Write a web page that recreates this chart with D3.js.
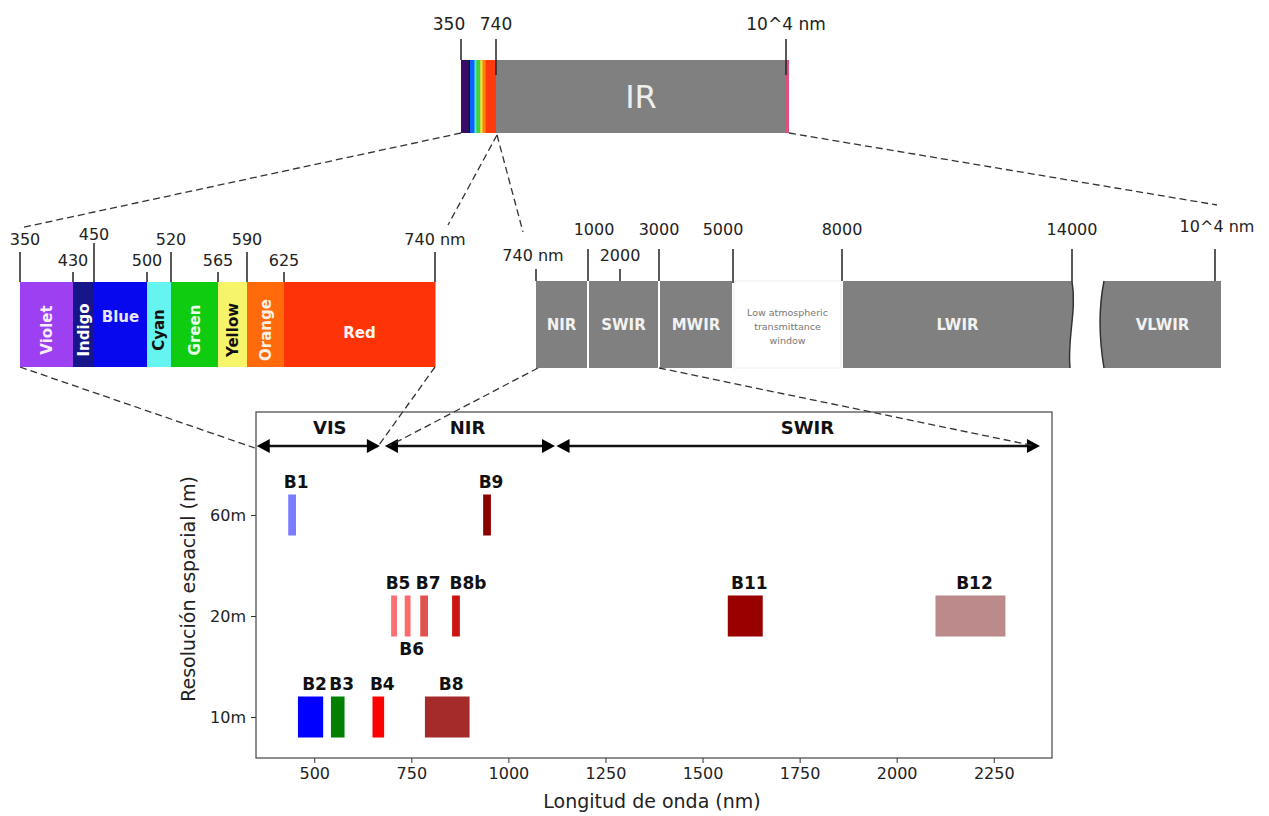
<!DOCTYPE html>
<html>
<head>
<meta charset="utf-8">
<script src="https://cdn.jsdelivr.net/npm/d3@7"></script>
<style>
body { margin: 0; background: #fff; }
text { font-family: "DejaVu Sans", sans-serif; }
</style>
</head>
<body>
<div id="fig"></div>
<script>
// visible spectrum
var visNames = ["Violet", "Indigo", "Blue", "Cyan", "Green", "Yellow", "Orange", "Red"];
var visEdges = [350, 430, 450, 500, 520, 565, 590, 625, 740];
var visTickLabels = ["350", "430", "450", "500", "520", "565", "590", "625", "740 nm"];
var visTickLevel = [1, 2, 0, 2, 1, 2, 1, 2, 1];
var visColors = ["#9d40f2", "#16168a", "#0808ee", "#66f4f0", "#10cc10", "#f6f46a", "#ff6a0a", "#ff3308"];
var visTextColors = ["#f6eefe", "#ffffff", "#e6e6ff", "#111111", "#eaffea", "#111111", "#fff0e4", "#fff6f2"];
var topVisColors = ["#3a0c6a", "#0c0c3c", "#1060ff", "#40e8f0", "#40d040", "#f0e030", "#ff8010", "#ff3a0c"];

// infrared
var irNames = ["NIR", "SWIR", "MWIR", "window", "LWIR"];
var irEdges = [740, 1000, 3000, 5000, 8000, 14000];
var irTicks = [740, 1000, 2000, 3000, 5000, 8000, 14000];
var irTickLabels = ["740 nm", "1000", "2000", "3000", "5000", "8000", "14000"];
var irTickLevel = [2, 1, 2, 1, 1, 1, 1];
var windowText = ["Low atmospheric", "transmittance", "window"];

// Sentinel-2 bands
var bandNames = ["B1", "B2", "B3", "B4", "B5", "B6", "B7", "B8", "B8b", "B9", "B11", "B12"];
var bandStart = [433, 458, 543, 650, 698, 733, 773, 785, 855, 935, 1565, 2100];
var bandEnd   = [453, 523, 578, 680, 713, 748, 793, 900, 875, 955, 1655, 2280];
var bandRes   = ["60m", "10m", "10m", "10m", "20m", "20m", "20m", "10m", "20m", "60m", "20m", "20m"];
var bandColors = ["#7b7bff", "#0000ff", "#007f00", "#ff0000", "#ff7070", "#ff6a6a", "#e05252",
                  "#a52a2a", "#cc1414", "#8b0000", "#990000", "#bc8a8a"];
var resLevels = ["60m", "20m", "10m"];
var xTicks = [500, 750, 1000, 1250, 1500, 1750, 2000, 2250];

var regionNames = ["VIS", "NIR", "SWIR"];
var regionStart = [352, 682, 1124];
var regionEnd   = [669, 1120, 2369];
var regionLabelAt = [540, 895, 1770];

var W = 1269, H = 816;
var svg = d3.select("#fig").append("svg").attr("width", W).attr("height", H);
svg.append("rect").attr("width", W).attr("height", H).attr("fill", "#fff");

var dash = (sel) => sel.attr("stroke", "#333").attr("stroke-width", 1.3)
    .attr("stroke-dasharray", "7,4").attr("fill", "none");
var tickLine = (sel) => sel.attr("stroke", "#222").attr("stroke-width", 1.5);

// ---------- top bar ----------
var topY = 60, topH = 73;
var topScale = d3.scaleLinear().domain([350, 740, 10000]).range([461, 496, 786]);
var topG = svg.append("g");
topG.selectAll("rect.vis")
    .data(visNames)
    .join("rect")
    .attr("x", (d, i) => topScale(visEdges[i]))
    .attr("width", (d, i) => topScale(visEdges[i + 1]) - topScale(visEdges[i]) + 0.5)
    .attr("y", topY).attr("height", topH)
    .attr("fill", (d, i) => topVisColors[i]);
topG.append("rect")
    .attr("x", topScale(740)).attr("width", topScale(10000) - topScale(740))
    .attr("y", topY).attr("height", topH).attr("fill", "#808080");
topG.append("rect")
    .attr("x", topScale(10000)).attr("width", 3)
    .attr("y", topY).attr("height", topH).attr("fill", "#e0507c");
topG.append("text")
    .attr("x", (topScale(740) + topScale(10000)) / 2).attr("y", topY + topH / 2)
    .attr("dy", "0.36em").attr("text-anchor", "middle")
    .attr("font-size", 32).attr("fill", "#eeeeee").text("IR");
var topTicks = [350, 740, 10000];
var topTickLabels = ["350", "740", "10^4 nm"];
topG.selectAll("line.t").data(topTicks).join("line")
    .attr("x1", d => topScale(d)).attr("x2", d => topScale(d))
    .attr("y1", 39).attr("y2", (d, i) => i === 0 ? topY : topY + 15)
    .call(tickLine);
topG.selectAll("text.t").data(topTicks).join("text")
    .attr("x", (d, i) => topScale(d) + (i === 0 ? -12 : 0)).attr("y", 30)
    .attr("text-anchor", "middle").attr("font-size", 17).attr("fill", "#222")
    .text((d, i) => topTickLabels[i]);

// ---------- visible bar ----------
var visY = 282, visH = 85;
var visScale = d3.scaleLinear().domain(visEdges).range([20, 73, 94, 147, 171, 218, 247, 284, 435]);
var vis = svg.append("g");
vis.selectAll("rect").data(visNames).join("rect")
    .attr("x", (d, i) => visScale(visEdges[i]))
    .attr("width", (d, i) => visScale(visEdges[i + 1]) - visScale(visEdges[i]) + 0.5)
    .attr("y", visY).attr("height", visH)
    .attr("fill", (d, i) => visColors[i]);
vis.selectAll("text.name").data(visNames).join("text")
    .attr("class", "name")
    .attr("transform", (d, i) => {
        var cx = (visScale(visEdges[i]) + visScale(visEdges[i + 1])) / 2;
        if (d === "Blue") return `translate(${cx},${visY + 35})`;
        if (d === "Red") return `translate(${cx},${visY + 51})`;
        return `translate(${cx},${visY + 48}) rotate(-90)`;
    })
    .attr("dy", "0.36em").attr("text-anchor", "middle")
    .attr("font-size", 15).attr("font-weight", "bold")
    .attr("fill", (d, i) => visTextColors[i]).text(d => d);
var levelBase = [240, 245, 266], levelTop = [243, 252, 272];
vis.selectAll("line.t").data(visEdges).join("line")
    .attr("x1", d => visScale(d)).attr("x2", d => visScale(d))
    .attr("y1", (d, i) => levelTop[visTickLevel[i]]).attr("y2", visY)
    .call(tickLine);
vis.selectAll("text.t").data(visEdges).join("text")
    .attr("x", (d, i) => visScale(d) + (i === 0 ? 5 : 0))
    .attr("y", (d, i) => levelBase[visTickLevel[i]])
    .attr("text-anchor", "middle").attr("font-size", 16).attr("fill", "#222")
    .text((d, i) => visTickLabels[i]);

// ---------- infrared bar ----------
var irY = 281, irH = 87;
var irScale = d3.scaleLinear().domain(irTicks).range([536, 588, 620, 659, 733, 842, 1072]);
var vlwirScale = d3.scaleLinear().domain([0, 1]).range([1104, 1221]);
var ir = svg.append("g");
irNames.forEach((name, i) => {
    var x0 = irScale(irEdges[i]) + (i > 0 ? 1 : 0);
    var x1 = irScale(irEdges[i + 1]) - 1;
    if (name === "window") {
        ir.append("rect").attr("x", x0).attr("width", x1 - x0)
            .attr("y", irY).attr("height", irH)
            .attr("fill", "#fff").attr("stroke", "#eee");
        windowText.forEach((t, j) => {
            ir.append("text").attr("x", (x0 + x1) / 2).attr("y", irY + 32 + j * 14)
                .attr("dy", "0.36em").attr("text-anchor", "middle")
                .attr("font-size", 9.5).attr("fill", "#777").text(t);
        });
        return;
    }
    if (name === "LWIR") {
        var xe = irScale(14000);
        var edge = `M${xe},${irY} C${xe + 5},${irY + 30} ${xe - 5},${irY + irH - 30} ${xe - 2},${irY + irH}`;
        ir.append("path")
            .attr("d", `M${x0},${irY} L${xe},${irY} C${xe + 5},${irY + 30} ${xe - 5},${irY + irH - 30} ${xe - 2},${irY + irH} L${x0},${irY + irH} Z`)
            .attr("fill", "#808080");
        ir.append("path").attr("d", edge).attr("fill", "none").attr("stroke", "#333").attr("stroke-width", 1.5);
        x1 = xe;
    } else {
        ir.append("rect").attr("x", x0).attr("width", x1 - x0)
            .attr("y", irY).attr("height", irH).attr("fill", "#808080");
    }
    ir.append("text").attr("x", (x0 + x1) / 2).attr("y", irY + irH / 2)
        .attr("dy", "0.36em").attr("text-anchor", "middle")
        .attr("font-size", 15).attr("font-weight", "bold").attr("fill", "#f2f2f2").text(name);
});
// VLWIR piece after the break
var v0 = vlwirScale(0), v1 = vlwirScale(1);
ir.append("path")
    .attr("d", `M${v0},${irY} L${v1},${irY} L${v1},${irY + irH} L${v0},${irY + irH} C${v0 - 5},${irY + irH - 30} ${v0 - 6},${irY + 30} ${v0},${irY} Z`)
    .attr("fill", "#808080");
ir.append("path")
    .attr("d", `M${v0},${irY + irH} C${v0 - 5},${irY + irH - 30} ${v0 - 6},${irY + 30} ${v0},${irY}`)
    .attr("fill", "none").attr("stroke", "#333").attr("stroke-width", 1.5);
ir.append("text").attr("x", (v0 + v1) / 2).attr("y", irY + irH / 2)
    .attr("dy", "0.36em").attr("text-anchor", "middle")
    .attr("font-size", 15).attr("font-weight", "bold").attr("fill", "#f2f2f2").text("VLWIR");

var irLevelBase = [0, 235, 261], irLevelTop = [0, 249, 269];
var irShift = {1000: 6, 5000: -10, 740: -3};
ir.selectAll("line.t").data(irTicks).join("line")
    .attr("x1", d => irScale(d)).attr("x2", d => irScale(d))
    .attr("y1", (d, i) => irLevelTop[irTickLevel[i]])
    .attr("y2", d => d === 5000 ? irY + 2 : irY)
    .call(tickLine);
ir.selectAll("text.t").data(irTicks).join("text")
    .attr("x", d => irScale(d) + (irShift[d] || 0))
    .attr("y", (d, i) => irLevelBase[irTickLevel[i]])
    .attr("text-anchor", "middle").attr("font-size", 16).attr("fill", "#222")
    .text((d, i) => irTickLabels[i]);
ir.append("line").attr("x1", v1 - 6).attr("x2", v1 - 6).attr("y1", 249).attr("y2", irY).call(tickLine);
ir.append("text").attr("x", v1 - 4).attr("y", 232).attr("text-anchor", "middle")
    .attr("font-size", 16).attr("fill", "#222").text("10^4 nm");

// ---------- Sentinel-2 chart ----------
var frame = {left: 256, right: 1052, top: 412, bottom: 758};
var x = d3.scaleLinear().domain([350, 2400]).range([frame.left, frame.right]);
var y = d3.scalePoint().domain(resLevels).range([515, 717]);
var barH = 41;
var chart = svg.append("g");

chart.append("rect")
    .attr("x", frame.left).attr("y", frame.top)
    .attr("width", frame.right - frame.left).attr("height", frame.bottom - frame.top)
    .attr("fill", "none").attr("stroke", "#444").attr("stroke-width", 1.2);

var xAxis = chart.append("g")
    .attr("transform", `translate(0,${frame.bottom})`)
    .call(d3.axisBottom(x).tickValues(xTicks).tickFormat(d3.format("d")).tickSize(5).tickPadding(5));
var yAxis = chart.append("g")
    .attr("transform", `translate(${frame.left},0)`)
    .call(d3.axisLeft(y).tickSize(5).tickPadding(5));
[xAxis, yAxis].forEach(a => {
    a.select(".domain").remove();
    a.selectAll("text").attr("font-size", 16).attr("fill", "#222")
        .attr("font-family", "DejaVu Sans, sans-serif");
    a.selectAll("line").attr("stroke", "#333");
});
chart.append("text").attr("x", 652).attr("y", 808)
    .attr("text-anchor", "middle").attr("font-size", 19).attr("fill", "#222")
    .text("Longitud de onda (nm)");
chart.append("text").attr("transform", "translate(195,589) rotate(-90)")
    .attr("text-anchor", "middle").attr("font-size", 19).attr("fill", "#222")
    .text("Resolución espacial (m)");

// regions
var arrowY = 446;
var head = (tip, dir) => `M${tip},${arrowY} L${tip - dir * 13},${arrowY - 7} L${tip - dir * 13},${arrowY + 7} Z`;
regionNames.forEach((r, i) => {
    var a = x(regionStart[i]), b = x(regionEnd[i]);
    chart.append("line").attr("x1", a + 8).attr("x2", b - 8)
        .attr("y1", arrowY).attr("y2", arrowY)
        .attr("stroke", "#111").attr("stroke-width", 2.5);
    chart.append("path").attr("d", head(a, -1)).attr("fill", "#000");
    chart.append("path").attr("d", head(b, 1)).attr("fill", "#000");
    chart.append("text").attr("x", x(regionLabelAt[i])).attr("y", 434)
        .attr("text-anchor", "middle").attr("font-size", 18).attr("font-weight", "bold")
        .attr("fill", "#111").text(r);
});

// bands
chart.selectAll("rect.band")
    .data(bandNames)
    .join("rect")
    .attr("class", "band")
    .attr("x", (d, i) => x(bandStart[i]))
    .attr("width", (d, i) => x(bandEnd[i]) - x(bandStart[i]))
    .attr("y", (d, i) => y(bandRes[i]) - barH / 2)
    .attr("height", barH)
    .attr("fill", (d, i) => bandColors[i]);
chart.selectAll("text.band")
    .data(bandNames)
    .join("text")
    .attr("class", "band")
    .attr("x", (d, i) => (x(bandStart[i]) + x(bandEnd[i])) / 2 + (d === "B8b" ? 12 : 4))
    .attr("y", (d, i) => d === "B6" ? y(bandRes[i]) + barH / 2 + 18 : y(bandRes[i]) - barH / 2 - 7)
    .attr("text-anchor", "middle").attr("font-size", 17).attr("font-weight", "bold")
    .attr("fill", "#111").text(d => d);

// ---------- dashed connectors ----------
var links = [
    [topScale(350), topY + topH, visScale(350), 228],
    [topScale(740) + 1, topY + topH + 2, visScale(740) + 13, 225],
    [topScale(740) + 1, topY + topH + 2, irScale(740) - 13, 232],
    [topScale(10000) + 3, topY + topH, v1 - 4, 205],
    [visScale(350), visY + visH, x(regionStart[0]) - 2, arrowY + 2],
    [visScale(740), visY + visH, x(regionEnd[0]) - 3, arrowY + 2],
    [irScale(740) + 2, irY + irH, x(regionStart[1]) + 4, arrowY],
    [irScale(3000), irY + irH, x(regionEnd[2]) - 5, arrowY]
];
svg.selectAll("path.link").data(links).join("path")
    .attr("class", "link")
    .attr("d", d => `M${d[0]},${d[1]} L${d[2]},${d[3]}`)
    .call(dash);
</script>
</body>
</html>
